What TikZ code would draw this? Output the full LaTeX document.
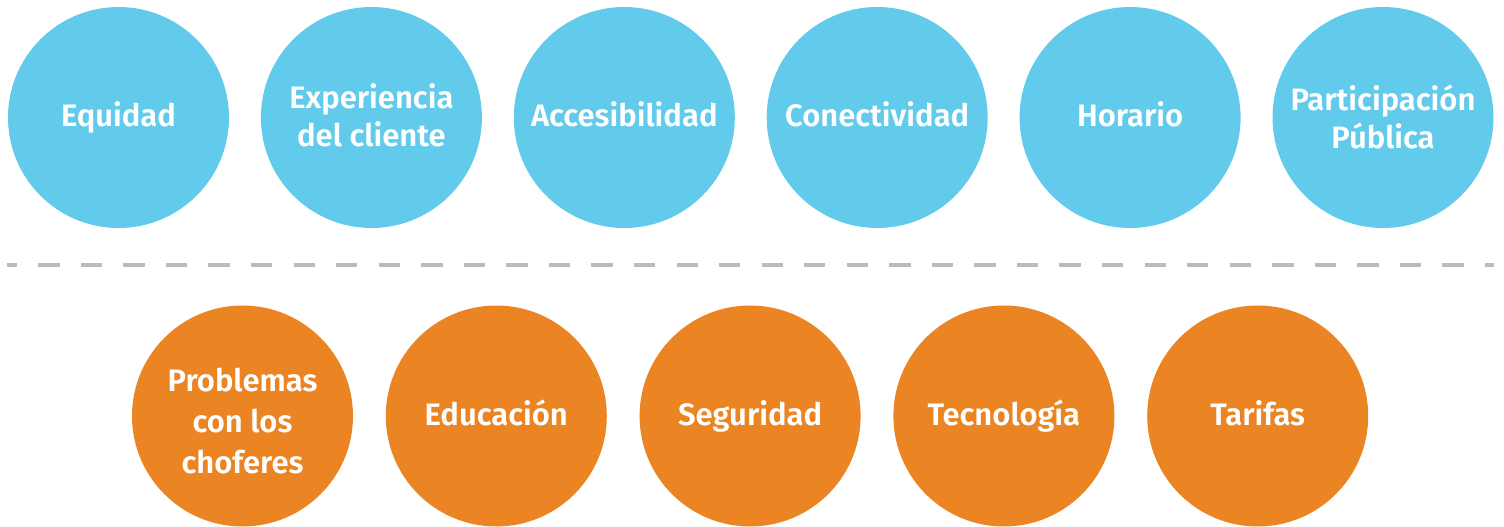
\documentclass[tikz,border=0pt]{standalone}
\usepackage{fontspec}
\setmainfont{Fira Sans}[BoldFont={* SemiBold}]
\definecolor{topblue}{HTML}{62CBEC}
\definecolor{botorange}{HTML}{EB8523}
\definecolor{dashgray}{HTML}{BBBBBB}
\begin{document}
\begin{tikzpicture}[x=1pt,y=-1pt,
  bubble/.style={circle, minimum size=221pt, inner sep=0pt, draw=none},
  topbubble/.style={bubble, fill=topblue},
  botbubble/.style={bubble, fill=botorange},
  lbl/.style={anchor=base, inner sep=0pt, text=white,
    font=\bfseries\fontsize{31}{40}\selectfont}]
\useasboundingbox (0,0) rectangle (1504,527);
% top row
\node[topbubble] (c1) at (118.5,117.5) {};
\node[topbubble] (c2) at (371.4,117.5) {};
\node[topbubble] (c3) at (624.3,117.5) {};
\node[topbubble] (c4) at (877.2,117.5) {};
\node[topbubble] (c5) at (1130.1,117.5) {};
\node[topbubble] (c6) at (1383,117.5) {};
\node[lbl] (t1) at (118.5,126.7) {Equidad};
\node[lbl] (t2a) at (371.4,108.3) {Experiencia};
\node[lbl] (t2b) at (371.4,146.7) {del cliente};
\node[lbl] (t3) at (624.3,126.7) {Accesibilidad};
\node[lbl] (t4) at (877.2,126.7) {Conectividad};
\node[lbl] (t5) at (1130.1,126.7) {Horario};
\node[lbl] (t6a) at (1383,110) {Participación};
\node[lbl] (t6b) at (1383,148.3) {Pública};
% bottom row
\node[botbubble] (d1) at (242.5,416) {};
\node[botbubble] (d2) at (496.3,416) {};
\node[botbubble] (d3) at (750.1,416) {};
\node[botbubble] (d4) at (1003.9,416) {};
\node[botbubble] (d5) at (1257.7,416) {};
\node[lbl] (u1a) at (242.5,391.7) {Problemas};
\node[lbl] (u1b) at (242.5,432.7) {con los};
\node[lbl] (u1c) at (242.5,473.3) {choferes};
\node[lbl] (u2) at (496.3,425) {Educación};
\node[lbl] (u3) at (750.1,425) {Seguridad};
\node[lbl] (u4) at (1003.9,425) {Tecnología};
\node[lbl] (u5) at (1257.7,425) {Tarifas};
% separator
\coordinate (l1) at (7,265);
\coordinate (l2) at (1494,265);
\draw[dashgray, line width=4.5pt, dash pattern=on 21.3pt off 21.25pt, dash phase=11.3pt] (l1) -- (l2);
\end{tikzpicture}
\end{document}
